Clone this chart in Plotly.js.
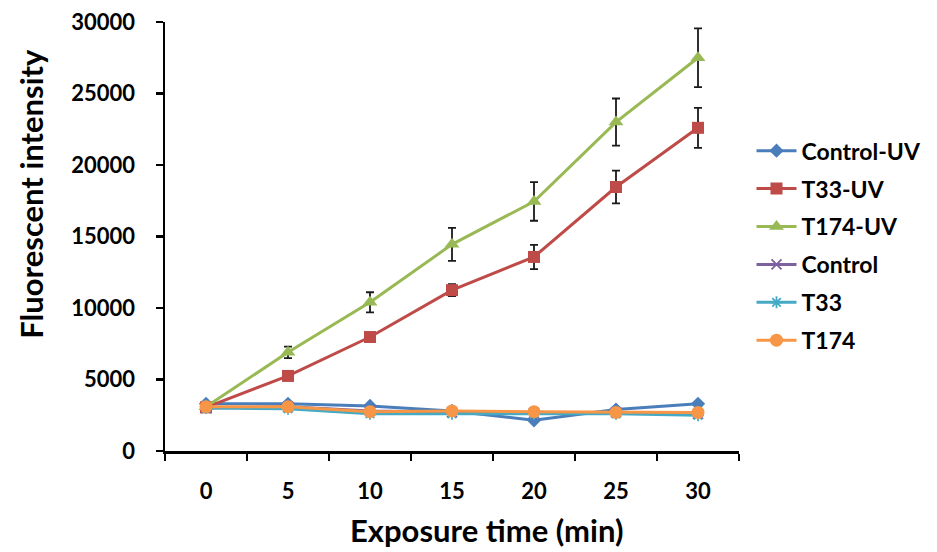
<!DOCTYPE html>
<html>
<head>
<meta charset="utf-8">
<script src="https://cdn.plot.ly/plotly-3.0.1.min.js"></script>
<style>html,body{margin:0;padding:0;background:#fff;}#chart{width:937px;height:552px;}</style>
</head>
<body>
<div id="chart"></div>
<script>
const categories = ["0", "5", "10", "15", "20", "25", "30"];
const seriesNames = ["Control-UV", "T33-UV", "T174-UV", "Control", "T33", "T174"];
const controlUV = [3300, 3300, 3150, 2800, 2150, 2900, 3300];
const t33UV = [3050, 5250, 7970, 11250, 13570, 18460, 22600];
const t33UVErr = [0, 200, 300, 420, 850, 1150, 1400];
const t174UV = [3100, 6900, 10400, 14450, 17450, 23000, 27500];
const t174UVErr = [0, 400, 700, 1150, 1350, 1650, 2050];
const control = [3000, 3100, 2800, 2700, 2650, 2700, 2600];
const t33 = [3000, 2950, 2600, 2600, 2600, 2600, 2500];
const t174 = [3100, 3100, 2750, 2800, 2750, 2700, 2700];

const FONT = "Lato, 'Open Sans', sans-serif";
const colors = ["#4a7ebb", "#be4b48", "#98b954", "#7d60a0", "#46aac5", "#f79646"];
const symbols = ["diamond", "square", "triangle-up", "x-thin", "asterisk-open", "circle"];
const sizes = [11, 12, 13, 10, 10, 13];
const values = [controlUV, t33UV, t174UV, control, t33, t174];
const errs = [null, t33UVErr, t174UVErr, null, null, null];

const traces = values.map((v, i) => {
  const t = {
    type: "scatter",
    mode: "lines+markers",
    name: seriesNames[i],
    legendgroup: "g" + i,
    x: categories,
    y: v,
    line: {color: colors[i], width: 3},
    marker: {symbol: symbols[i], size: sizes[i], color: colors[i],
             line: {color: colors[i], width: (i === 3 || i === 4) ? 1.8 : 0}}
  };
  if (errs[i]) {
    t.error_y = {type: "data", array: errs[i], visible: true, color: "#1a1a1a", thickness: 1.8, width: 4};
  }
  return t;
});

const layout = {
  width: 937, height: 552,
  margin: {l: 165, r: 197, t: 22, b: 101},
  paper_bgcolor: "#fff", plot_bgcolor: "#fff",
  font: {family: FONT, color: "#000"},
  showlegend: true,
  legend: {
    x: 1.02, y: 0.75, xanchor: "left", yanchor: "top",
    font: {family: FONT, size: 23, color: "#000", weight: "bold"},
    itemwidth: 40, tracegroupgap: 5, bgcolor: "rgba(0,0,0,0)", borderwidth: 0
  },
  xaxis: {
    type: "category",
    tickson: "boundaries",
    showgrid: false, zeroline: false,
    showline: true, linecolor: "#000", linewidth: 2.5,
    ticks: "outside", ticklen: 7, tickwidth: 2.5, tickcolor: "#000",
    tickfont: {family: FONT, size: 22, color: "#000", weight: "bold"},
    ticklabelstandoff: 19,
    range: [-0.5, 6.5]
  },
  yaxis: {
    range: [0, 30000],
    tickvals: [0, 5000, 10000, 15000, 20000, 25000, 30000],
    ticktext: ["0", "5000", "10000", "15000", "20000", "25000", "30000"],
    showgrid: false, zeroline: false,
    showline: true, linecolor: "#000", linewidth: 2.5,
    ticks: "outside", ticklen: 7, tickwidth: 2.5, tickcolor: "#000",
    tickfont: {family: FONT, size: 22, color: "#000", weight: "bold"},
    ticklabelstandoff: 16
  },
  annotations: [
    {text: "Fluorescent intensity", textangle: -90, xref: "paper", yref: "paper",
     x: -0.235, y: 0.6, xanchor: "center", yanchor: "middle", showarrow: false,
     font: {family: FONT, size: 31, color: "#000", weight: "bold"}},
    {text: "Exposure time (min)", xref: "paper", yref: "paper",
     x: 0.56, y: -0.185, xanchor: "center", yanchor: "middle", showarrow: false,
     font: {family: FONT, size: 31, color: "#000", weight: "bold"}}
  ]
};

Plotly.newPlot("chart", traces, layout, {displayModeBar: false, staticPlot: true});
</script>
</body>
</html>
